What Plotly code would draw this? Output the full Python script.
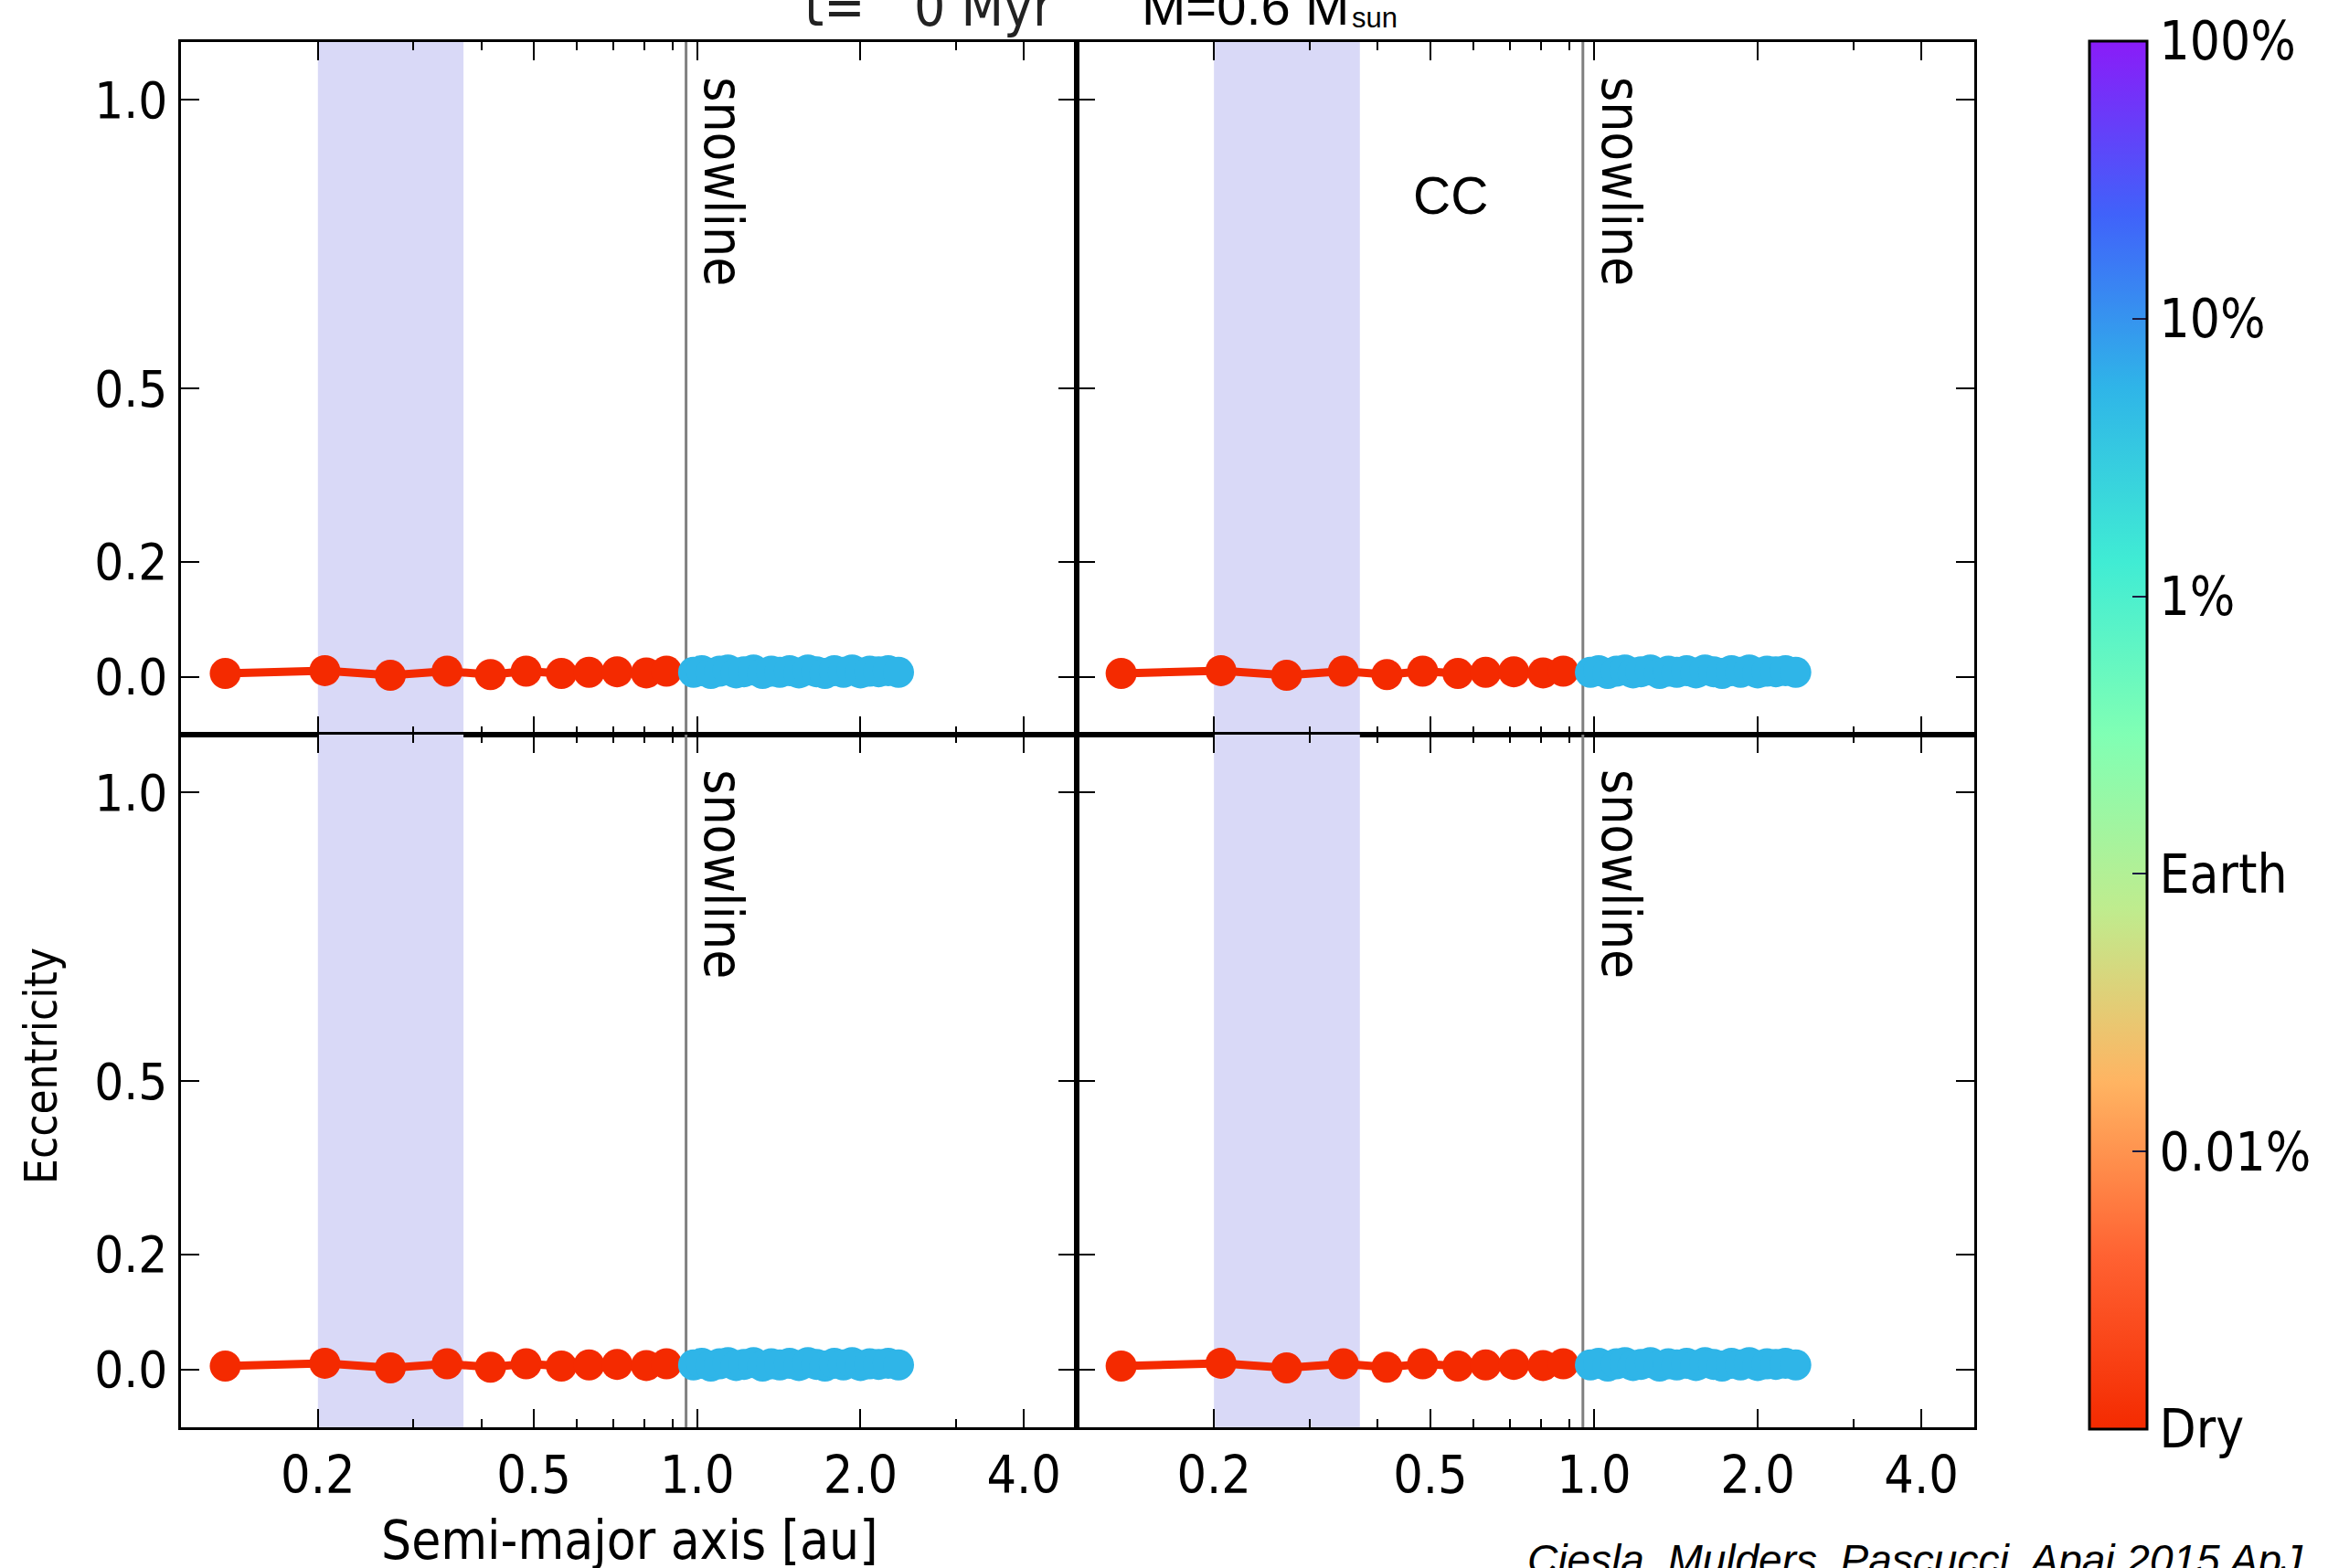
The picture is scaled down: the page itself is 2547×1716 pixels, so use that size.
import numpy as np
import plotly.graph_objects as go

# ---------------- data ----------------
# dry (rocky) bodies inside the snowline
red_a = [0.135, 0.206, 0.272, 0.346, 0.416, 0.484, 0.562, 0.632, 0.712, 0.806, 0.878]
red_e = [0.006, 0.011, 0.003, 0.010, 0.004, 0.010, 0.006, 0.008, 0.009, 0.007, 0.010]
red_water_pct = [0, 0, 0, 0, 0, 0, 0, 0, 0, 0, 0]

# water-rich bodies outside the snowline
blue_a = [0.985, 1.02, 1.06, 1.10, 1.14, 1.18, 1.22, 1.27, 1.32, 1.37, 1.42, 1.48,
          1.54, 1.60, 1.66, 1.72, 1.79, 1.86, 1.93, 2.00, 2.08, 2.16, 2.25, 2.35]
blue_e = [0.008, 0.011, 0.006, 0.010, 0.012, 0.007, 0.009, 0.012, 0.006, 0.010, 0.008, 0.011,
          0.007, 0.012, 0.009, 0.006, 0.011, 0.008, 0.012, 0.007, 0.010, 0.009, 0.011, 0.008]
blue_water_pct = [5.6, 5.6, 5.6, 5.6, 5.6, 5.6, 5.6, 5.6, 5.6, 5.6, 5.6, 5.6,
                  5.6, 5.6, 5.6, 5.6, 5.6, 5.6, 5.6, 5.6, 5.6, 5.6, 5.6, 5.6]

SNOWLINE_AU = 0.954
HZ_INNER_AU = 0.20
HZ_OUTER_AU = 0.371

x_tickvals = [0.2, 0.5, 1.0, 2.0, 4.0]
x_ticktext = ["0.2", "0.5", "1.0", "2.0", "4.0"]
x_minor_tickvals = [0.3, 0.4, 0.6, 0.7, 0.8, 0.9, 3.0]
y_tickvals = [0.0, 0.2, 0.5, 1.0]
y_ticktext = ["0.0", "0.2", "0.5", "1.0"]
cb_tickvals = [-3, -2, -1, 0, 1, 2]
cb_ticktext = ["Dry", "0.01%", "Earth", "1%", "10%", "100%"]

X_RANGE_AU = [0.1117, 5.0]
Y_RANGE = [-0.1, 1.1]

# ---------------- styling ----------------
W, H = 2547, 1716
FONT = "DejaVu Sans Condensed, DejaVu Sans, sans-serif"
ARIAL = "Liberation Sans, Arial, sans-serif"
DRY_COLOR = "#f42a00"
WET_COLOR = "#2fb5e8"

colorscale = [
    [0.0, DRY_COLOR],
    [0.125, "#ff6232"],
    [0.25, "#ffb462"],
    [0.375, "#bfec8e"],
    [0.5, "#80ffb4"],
    [0.625, "#40ecd4"],
    [0.75, WET_COLOR],
    [0.875, "#4062fa"],
    [1.0, "#8a1cf8"],
]


def water_to_level(pcts):
    return [float(np.log10(max(p, 10 ** cb_tickvals[0]))) for p in pcts]


def px_x(v):
    return v / W


def px_y(v):
    return 1 - v / H


X_LEFT = [px_x(198), px_x(1180)]
X_RIGHT = [px_x(1180), px_x(2164)]
Y_TOP = [px_y(804), px_y(46)]
Y_BOT = [px_y(1562), px_y(804)]

panels = [
    ("x", "y", X_LEFT, Y_TOP, False, True),
    ("x2", "y2", X_RIGHT, Y_TOP, False, False),
    ("x3", "y3", X_LEFT, Y_BOT, True, True),
    ("x4", "y4", X_RIGHT, Y_BOT, True, False),
]

fig = go.Figure()
layout = dict(
    width=W, height=H,
    margin=dict(l=0, r=0, t=0, b=0),
    paper_bgcolor="white", plot_bgcolor="white",
    showlegend=False,
    font=dict(family=FONT, size=56, color="black"),
    coloraxis=dict(
        cmin=cb_tickvals[0], cmax=cb_tickvals[-1], colorscale=colorscale,
        colorbar=dict(
            x=px_x(2290), xanchor="left", xpad=0,
            y=px_y((45 + 1564) / 2), yanchor="middle", ypad=0,
            len=1564 - 45, lenmode="pixels", thickness=63,
            outlinewidth=3, outlinecolor="black",
            tickmode="array", tickvals=cb_tickvals, ticktext=cb_ticktext,
            ticks="inside", ticklen=17, tickwidth=2, tickcolor="#1a1a40",
            tickfont=dict(family=FONT, size=58, color="black"),
        ),
    ),
)

annotations = []
for xa, ya, xdom, ydom, show_x, show_y in panels:
    # habitable-zone band
    fig.add_trace(go.Scatter(
        x=[HZ_INNER_AU, HZ_INNER_AU, HZ_OUTER_AU, HZ_OUTER_AU],
        y=[Y_RANGE[0], Y_RANGE[1], Y_RANGE[1], Y_RANGE[0]],
        fill="toself", fillcolor="#d9d9f7", mode="lines", line=dict(width=0),
        hoverinfo="skip", xaxis=xa, yaxis=ya))
    # snowline
    fig.add_trace(go.Scatter(
        x=[SNOWLINE_AU, SNOWLINE_AU], y=Y_RANGE, mode="lines",
        line=dict(color="#808080", width=3), hoverinfo="skip", xaxis=xa, yaxis=ya))
    # dry bodies
    fig.add_trace(go.Scatter(
        x=red_a, y=red_e, mode="lines+markers",
        line=dict(color=DRY_COLOR, width=9),
        marker=dict(size=34, color=water_to_level(red_water_pct), coloraxis="coloraxis",
                    line=dict(width=0)),
        xaxis=xa, yaxis=ya))
    # wet bodies
    fig.add_trace(go.Scatter(
        x=blue_a, y=blue_e, mode="lines+markers",
        line=dict(color=WET_COLOR, width=9),
        marker=dict(size=34, color=water_to_level(blue_water_pct), coloraxis="coloraxis",
                    line=dict(width=0)),
        xaxis=xa, yaxis=ya))

    xkey = "xaxis" + xa[1:]
    ykey = "yaxis" + ya[1:]
    layout[xkey] = dict(
        type="log", range=[np.log10(X_RANGE_AU[0]), np.log10(X_RANGE_AU[1])],
        domain=xdom, anchor=ya,
        showline=True, linecolor="black", linewidth=3, mirror="ticks",
        ticks="inside", ticklen=20, tickwidth=2, tickcolor="black",
        tickmode="array", tickvals=x_tickvals, ticktext=x_ticktext,
        showticklabels=show_x, ticklabelstandoff=1,
        tickfont=dict(family=FONT, size=57, color="black"),
        minor=dict(tickmode="array", tickvals=x_minor_tickvals, ticks="inside",
                   ticklen=9, tickwidth=2, tickcolor="black", showgrid=False),
        showgrid=False, zeroline=False, automargin=False,
    )
    layout[ykey] = dict(
        range=Y_RANGE, domain=ydom, anchor=xa,
        showline=True, linecolor="black", linewidth=3, mirror="ticks",
        ticks="inside", ticklen=20, tickwidth=2, tickcolor="black",
        tickmode="array", tickvals=y_tickvals, ticktext=y_ticktext,
        showticklabels=show_y, ticklabelstandoff=0,
        tickfont=dict(family=FONT, size=56, color="black"),
        showgrid=False, zeroline=False, automargin=False,
    )
    # snowline label
    annotations.append(dict(
        text="snowline", xref=xa, yref=ya,
        x=float(np.log10(SNOWLINE_AU)), y=0.858, xshift=41,
        xanchor="center", yanchor="middle", textangle=90, showarrow=False,
        font=dict(family=FONT, size=58, color="black")))

# axis titles
annotations.append(dict(text="Semi-major axis [au]", xref="paper", yref="paper",
                        x=px_x(690), y=px_y(1686), xanchor="center", yanchor="middle",
                        showarrow=False, font=dict(family=FONT, size=58, color="black")))
annotations.append(dict(text="Eccentricity", xref="paper", yref="paper",
                        x=px_x(45), y=px_y(1166), xanchor="center", yanchor="middle",
                        textangle=-90, showarrow=False,
                        font=dict(family=FONT, size=49, color="black")))
# panel label
annotations.append(dict(text="CC", xref="paper", yref="paper",
                        x=px_x(1590), y=px_y(214), xanchor="center", yanchor="middle",
                        showarrow=False, font=dict(family=ARIAL, size=57, color="black")))
# title pieces (partly cut off at the top)
annotations.append(dict(text="t=", xref="paper", yref="paper",
                        x=px_x(880), y=px_y(7), xanchor="left", yanchor="middle",
                        showarrow=False, font=dict(family=FONT, size=60, color="#222222")))
annotations.append(dict(text="0 Myr", xref="paper", yref="paper",
                        x=px_x(1000), y=px_y(7), xanchor="left", yanchor="middle",
                        showarrow=False, font=dict(family=FONT, size=60, color="#222222")))
annotations.append(dict(text="M=0.6 M", xref="paper", yref="paper",
                        x=px_x(1249), y=px_y(7), xanchor="left", yanchor="middle",
                        showarrow=False, font=dict(family=ARIAL, size=58, color="black")))
annotations.append(dict(text="sun", xref="paper", yref="paper",
                        x=px_x(1480), y=px_y(19), xanchor="left", yanchor="middle",
                        showarrow=False, font=dict(family=ARIAL, size=31, color="black")))
# credit (cut off at the bottom right)
annotations.append(dict(text="<i>Ciesla, Mulders, Pascucci, Apai 2015 ApJ</i>",
                        xref="paper", yref="paper",
                        x=px_x(1672), y=px_y(1707), xanchor="left", yanchor="middle",
                        showarrow=False, font=dict(family=ARIAL, size=46, color="black")))

layout["annotations"] = annotations
fig.update_layout(**layout)
fig.write_html(
    "out.html",
    config={"displayModeBar": False},
    post_script="document.body.style.margin='0px';document.body.style.overflow='hidden';",
)
